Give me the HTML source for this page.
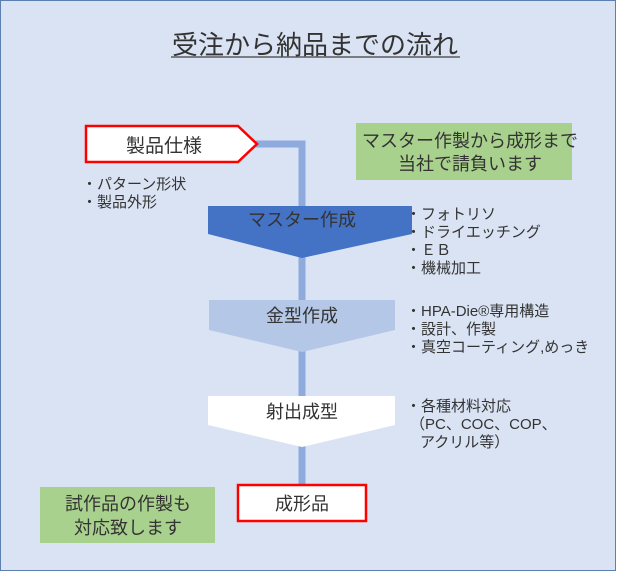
<!DOCTYPE html>
<html><head><meta charset="utf-8"><style>
html,body{margin:0;padding:0;background:#fff}
svg{display:block}
text{font-family:"Liberation Sans","Noto Sans CJK JP",sans-serif;fill:#333}
</style></head><body>
<svg width="620" height="573" viewBox="0 0 620 573" xmlns="http://www.w3.org/2000/svg">
<rect x="0.5" y="0.5" width="615" height="570" fill="#dae3f3" stroke="#5b7fb0" stroke-width="1"/>
<text x="315" y="54" font-size="26" text-anchor="middle" fill="#404040">受注から納品までの流れ</text>
<line x1="171" y1="57" x2="460" y2="57" stroke="#404040" stroke-width="1.3"/>
<polyline points="256,144 302,144 302,490" fill="none" stroke="#8faadc" stroke-width="7"/>
<polygon points="86,126 238,126 257,144 238,162 86,162" fill="#fff" stroke="#ff0000" stroke-width="2.5"/>
<text x="164" y="152" font-size="19" text-anchor="middle">製品仕様</text>
<text x="82" y="189" font-size="15">・パターン形状</text>
<text x="82" y="207" font-size="15">・製品外形</text>
<polygon points="208,206 412,206 412,234 302,258 208,234" fill="#4472c4"/>
<text x="302" y="226" font-size="18" text-anchor="middle" fill="#fff">マスター作成</text>
<polygon points="209,300 395,300 395,330 302,352 209,330" fill="#b4c7e7"/>
<text x="302" y="322" font-size="18" text-anchor="middle">金型作成</text>
<polygon points="208,396 395,396 395,425 302,447 208,425" fill="#fff"/>
<text x="302" y="418" font-size="18" text-anchor="middle">射出成型</text>
<rect x="238" y="485" width="128" height="36" fill="#fff" stroke="#ff0000" stroke-width="2.5"/>
<text x="302" y="510" font-size="18" text-anchor="middle">成形品</text>
<rect x="356" y="123" width="216" height="57" fill="#a9d18e"/>
<text x="470" y="147" font-size="18" text-anchor="middle" fill="#222">マスター作製から成形まで</text>
<text x="470" y="170" font-size="18" text-anchor="middle" fill="#222">当社で請負います</text>
<rect x="40" y="487" width="175" height="56" fill="#a9d18e"/>
<text x="128" y="510" font-size="18" text-anchor="middle" fill="#222">試作品の作製も</text>
<text x="128" y="534" font-size="18" text-anchor="middle" fill="#222">対応致します</text>
<g font-size="15">
<text x="406" y="219">・フォトリソ</text>
<text x="406" y="237">・ドライエッチング</text>
<text x="406" y="255">・ＥＢ</text>
<text x="406" y="273">・機械加工</text>
<text x="406" y="316">・HPA-Die®専用構造</text>
<text x="406" y="334">・設計、作製</text>
<text x="406" y="352">・真空コーティング,めっき</text>
<text x="406" y="411">・各種材料対応</text>
<text x="410" y="429">（PC、COC、COP、</text>
<text x="420" y="447">アクリル等）</text>
</g>
</svg>
</body></html>
